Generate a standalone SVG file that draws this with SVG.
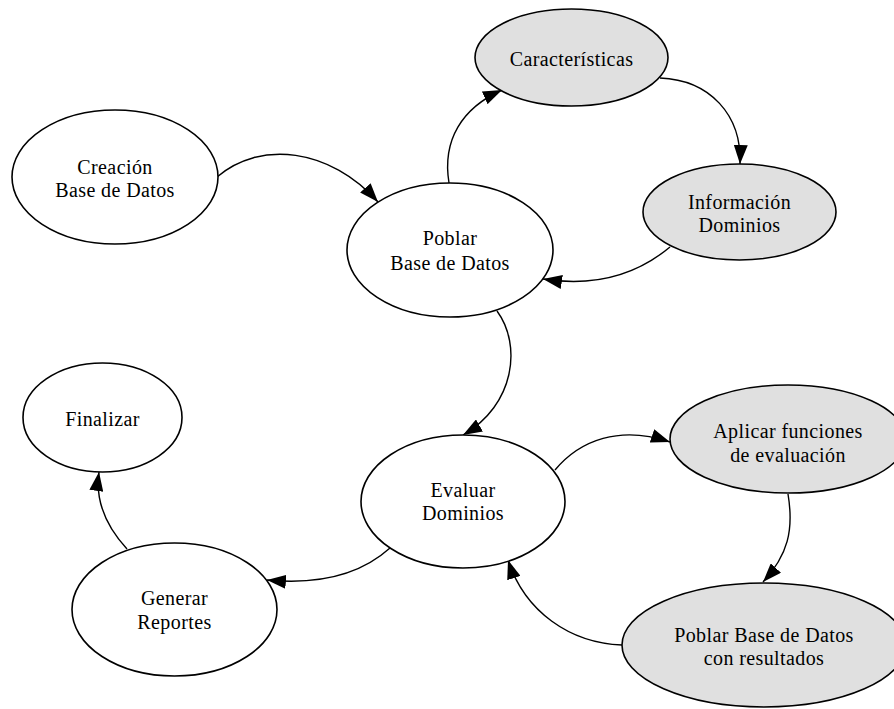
<svg xmlns="http://www.w3.org/2000/svg" width="894" height="709" viewBox="0 0 894 709">
<style>
.n{fill:#ffffff;stroke:#000;stroke-width:1.6}
.g{fill:#e0e0e0;stroke:#000;stroke-width:1.6}
.t{font-family:"Liberation Serif","Times New Roman",serif;font-size:20px;letter-spacing:0.4px;fill:#000;text-anchor:middle}
.e{fill:none;stroke:#000;stroke-width:1.4}
</style>
<defs>
<marker id="ah" markerWidth="19" markerHeight="14" refX="19" refY="7" orient="auto" markerUnits="userSpaceOnUse">
<path d="M0,0 L19,7 L0,14 Z" fill="#000"/>
</marker>
</defs>
<rect width="894" height="709" fill="#fff"/>
<g id="edges">
<path class="e" d="M217,177 C260,140 330,148 378,202" marker-end="url(#ah)"/>
<path class="e" d="M449,183 C442,140 462,108 502,90" marker-end="url(#ah)"/>
<path class="e" d="M660,78 C710,80 742,115 740,164" marker-end="url(#ah)"/>
<path class="e" d="M670,247 C640,272 600,288 543,279" marker-end="url(#ah)"/>
<path class="e" d="M497,311 C522,345 515,405 463,435" marker-end="url(#ah)"/>
<path class="e" d="M555,470 C580,440 620,425 670,442" marker-end="url(#ah)"/>
<path class="e" d="M788,494 C794,530 788,555 763,582" marker-end="url(#ah)"/>
<path class="e" d="M622,645 C570,643 525,612 508,560" marker-end="url(#ah)"/>
<path class="e" d="M390,548 C360,575 320,585 267,580" marker-end="url(#ah)"/>
<path class="e" d="M127,549 C105,525 95,500 99,472" marker-end="url(#ah)"/>
</g>
<g id="creacion">
<ellipse class="n" cx="115" cy="177" rx="103" ry="67"/>
<text class="t" x="115" y="174">Creación</text>
<text class="t" x="115" y="197">Base de Datos</text>
</g>
<g id="poblar">
<ellipse class="n" cx="450" cy="250" rx="103" ry="67"/>
<text class="t" x="450" y="245">Poblar</text>
<text class="t" x="450" y="270">Base de Datos</text>
</g>
<g id="caracteristicas">
<ellipse class="g" cx="571.5" cy="57.5" rx="96.5" ry="48.5"/>
<text class="t" x="571.5" y="66">Características</text>
</g>
<g id="informacion">
<ellipse class="g" cx="739.5" cy="212" rx="96.5" ry="48"/>
<text class="t" x="739.5" y="209">Información</text>
<text class="t" x="739.5" y="232">Dominios</text>
</g>
<g id="evaluar">
<ellipse class="n" cx="463" cy="501.5" rx="102" ry="66.5"/>
<text class="t" x="463" y="497">Evaluar</text>
<text class="t" x="463" y="520">Dominios</text>
</g>
<g id="aplicar">
<ellipse class="g" cx="788" cy="439" rx="118" ry="54"/>
<text class="t" x="788" y="438">Aplicar funciones</text>
<text class="t" x="788" y="462">de evaluación</text>
</g>
<g id="poblarres">
<ellipse class="g" cx="764" cy="645" rx="142" ry="62"/>
<text class="t" x="764" y="642">Poblar Base de Datos</text>
<text class="t" x="764" y="665">con resultados</text>
</g>
<g id="generar">
<ellipse class="n" cx="174.5" cy="609.5" rx="102.5" ry="66.5"/>
<text class="t" x="174.5" y="605">Generar</text>
<text class="t" x="174.5" y="629">Reportes</text>
</g>
<g id="finalizar">
<ellipse class="n" cx="102.5" cy="417.5" rx="79.5" ry="54.5"/>
<text class="t" x="102.5" y="426">Finalizar</text>
</g>
</svg>
